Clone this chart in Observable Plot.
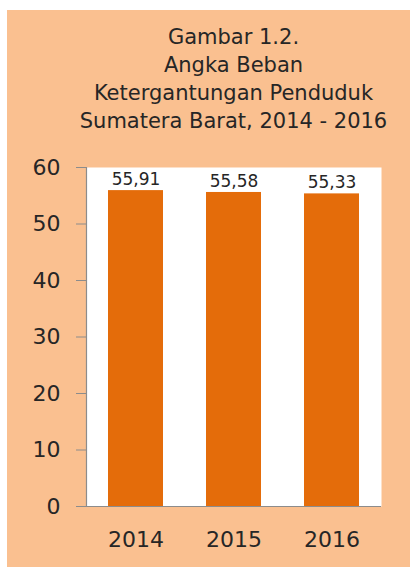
<!DOCTYPE html>
<html>
<head>
<meta charset="utf-8">
<script src="https://cdn.jsdelivr.net/npm/d3@7"></script>
<script src="https://cdn.jsdelivr.net/npm/@observablehq/plot@0.6"></script>
<style>
  html, body { margin: 0; padding: 0; background: #ffffff; }
  body { width: 410px; height: 567px; position: relative; overflow: hidden; font-family: "DejaVu Sans", sans-serif; }
  #panel { position: absolute; left: 7px; top: 10px; width: 403px; height: 557px; background: #FAC090; }
  #title { position: absolute; left: 50px; top: 12.5px; width: 353px; text-align: center; font-size: 21px; line-height: 28px; color: #262626; }
  #chart { position: absolute; left: 0; top: 135px; }
</style>
</head>
<body>
<div id="panel">
  <div id="title"></div>
  <div id="chart"></div>
</div>
<script>
const titleLines = ["Gambar 1.2.", "Angka Beban", "Ketergantungan Penduduk", "Sumatera Barat, 2014 - 2016"];
const years = ["2014", "2015", "2016"];
const values = [55.91, 55.58, 55.33];
const valueLabels = ["55,91", "55,58", "55,33"];
const yTicks = [0, 10, 20, 30, 40, 50, 60];

const titleEl = document.getElementById("title");
titleLines.forEach(t => { const d = document.createElement("div"); d.textContent = t; titleEl.appendChild(d); });

const data = years.map((y, i) => ({year: y, value: values[i], label: valueLabels[i]}));

const chart = Plot.plot({
  width: 403,
  height: 422,
  marginTop: 22,
  marginBottom: 61,
  marginLeft: 79,
  marginRight: 29,
  style: {background: "transparent", fontFamily: "DejaVu Sans, sans-serif", color: "#262626", overflow: "visible"},
  x: {domain: years, paddingInner: 0.44, paddingOuter: 0.22, label: null},
  y: {domain: [0, 60], label: null},
  marks: [
    Plot.frame({fill: "white", stroke: null}),
    Plot.barY(data, {x: "year", y: "value", fill: "#E46C0A", inset: 0}),
    Plot.frame({anchor: "left", stroke: "#8c8c8c", strokeWidth: 1.2}),
    Plot.ruleY([0], {stroke: "#8c8c8c", strokeWidth: 1.2}),
    Plot.axisY({ticks: yTicks, tickSize: 10, tickPadding: 16, fontSize: 22, stroke: "#8c8c8c", fill: "#262626", label: null}),
    Plot.axisX({tickSize: 0, tickPadding: 25, fontSize: 22, fill: "#262626", label: null}),
    Plot.text(data, {x: "year", y: "value", text: "label", fontSize: 17, fill: "#262626", dy: -11})
  ]
});
document.getElementById("chart").appendChild(chart);
</script>
</body>
</html>
